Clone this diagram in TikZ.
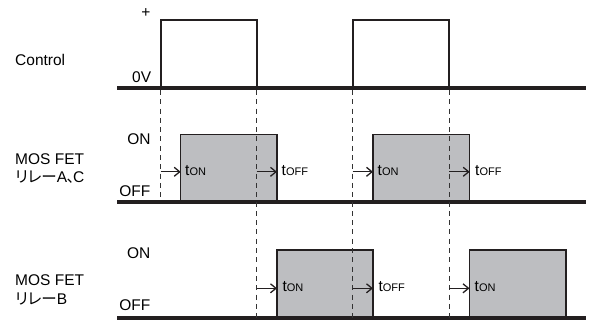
\documentclass[tikz,border=0pt]{standalone}
\usepackage{fontspec}
\setmainfont{Liberation Sans}
\newfontfamily\jp[RawFeature=+palt]{Noto Sans CJK JP}
\usetikzlibrary{arrows.meta}
\definecolor{ink}{HTML}{231F20}
\definecolor{boxgray}{HTML}{BDBEC1}
\definecolor{dashc}{HTML}{333333}
\newcommand{\tsub}[1]{t{\fontsize{11}{11}\selectfont #1}}
\begin{document}
\begin{tikzpicture}[x=1pt,y=-1pt,
  lbl/.style={inner sep=0pt, font=\fontsize{15.5}{16}\selectfont},
  jplbl/.style={inner sep=0pt, font=\fontsize{15.5}{16}\selectfont},
  baseln/.style={line width=3.5pt, draw=ink},
  pulse/.style={line width=1.6pt, draw=ink},
  gbox/.style={line width=1.4pt, draw=ink, fill=boxgray},
  guide/.style={line width=1pt, draw=dashc, dash pattern=on 5pt off 4.3pt},
  delay/.style={line width=1.4pt, draw=ink, -{Straight Barb[length=5.5pt,width=9pt,line width=1.3pt]}},
  tlbl/.style={inner sep=0pt, anchor=base west, font=\fontsize{15.5}{16}\selectfont},
]
\useasboundingbox (0,0) rectangle (590,320);

% ---------- Control ----------
\coordinate (cL) at (117,87.8);
\coordinate (cR) at (586,87.8);
\draw[baseln] (cL) -- (cR);
\draw[pulse] (160.7,87.8) -- (160.7,20.3) -- (256.7,20.3) -- (256.7,87.8);
\draw[pulse] (352.7,87.8) -- (352.7,20.3) -- (449,20.3) -- (449,87.8);

\node[lbl, anchor=base west] (ctl) at (15,66) {Control};
\node[lbl, anchor=center] (plus) at (146,13) {+};
\node[lbl, anchor=base west] (zv) at (132,82.7) {0V};

% ---------- Relay A, C ----------
\draw[gbox] (180.7,201.8) rectangle (277,134.3);
\draw[gbox] (373,201.8) rectangle (469.7,134.3);
\coordinate (aL) at (117,201.8);
\coordinate (aR) at (586,201.8);
\draw[baseln] (aL) -- (aR);

\node[lbl, anchor=base east] (aon) at (150.7,145) {ON};
\node[lbl, anchor=base east] (aoff) at (150.5,197) {OFF};
\node[lbl, anchor=base west] (amos) at (15,164.3) {MOS FET};
\node[jplbl, anchor=base west] (arel) at (15,183) {{\jp リレー}A{\jp\makebox[6pt][l]{\hspace{-0.5pt}、}}C};

% ---------- Relay B ----------
\draw[gbox] (277,318) rectangle (373,250);
\draw[gbox] (469.5,318) rectangle (565.8,250);
\coordinate (bL) at (117,318);
\coordinate (bR) at (586,318);
\draw[baseln] (bL) -- (bR);

\node[lbl, anchor=base east] (bon) at (150.5,259) {ON};
\node[lbl, anchor=base east] (boff) at (150.5,311) {OFF};
\node[lbl, anchor=base west] (bmos) at (15,286) {MOS FET};
\node[jplbl, anchor=base west] (brel) at (15,305) {{\jp リレー}B};

% ---------- guides ----------
\coordinate (g1t) at (160.7,90);   \coordinate (g1b) at (160.7,200);
\coordinate (g2t) at (256.7,90);   \coordinate (g2b) at (256.7,318);
\coordinate (g3t) at (352.7,90);   \coordinate (g3b) at (352.7,318);
\coordinate (g4t) at (449,90);     \coordinate (g4b) at (449,318);
\draw[guide] (g1t) -- (g1b);
\draw[guide] (g2t) -- (g2b);
\draw[guide] (g3t) -- (g3b);
\draw[guide] (g4t) -- (g4b);

% ---------- delay arrows row A ----------
\coordinate (a1s) at (160.7,171.8); \coordinate (a1e) at (180.7,171.8);
\coordinate (a2s) at (256.7,171.8); \coordinate (a2e) at (277,171.8);
\coordinate (a3s) at (352.7,171.8); \coordinate (a3e) at (373,171.8);
\coordinate (a4s) at (449,171.8);   \coordinate (a4e) at (469.7,171.8);
\draw[delay] (a1s) -- (a1e);
\draw[delay] (a2s) -- (a2e);
\draw[delay] (a3s) -- (a3e);
\draw[delay] (a4s) -- (a4e);
\node[tlbl] (ta1) at (185,176) {\tsub{ON}};
\node[tlbl] (ta2) at (281.5,176) {\tsub{OFF}};
\node[tlbl] (ta3) at (377.5,176) {\tsub{ON}};
\node[tlbl] (ta4) at (475,176) {\tsub{OFF}};

% ---------- delay arrows row B ----------
\coordinate (b1s) at (256.7,288.3); \coordinate (b1e) at (277,288.3);
\coordinate (b2s) at (352.7,288.3); \coordinate (b2e) at (373,288.3);
\coordinate (b3s) at (449,288.3);   \coordinate (b3e) at (469.5,288.3);
\draw[delay] (b1s) -- (b1e);
\draw[delay] (b2s) -- (b2e);
\draw[delay] (b3s) -- (b3e);
\node[tlbl] (tb1) at (282.3,292) {\tsub{ON}};
\node[tlbl] (tb2) at (378.3,292) {\tsub{OFF}};
\node[tlbl] (tb3) at (474.5,292) {\tsub{ON}};
\end{tikzpicture}
\end{document}
